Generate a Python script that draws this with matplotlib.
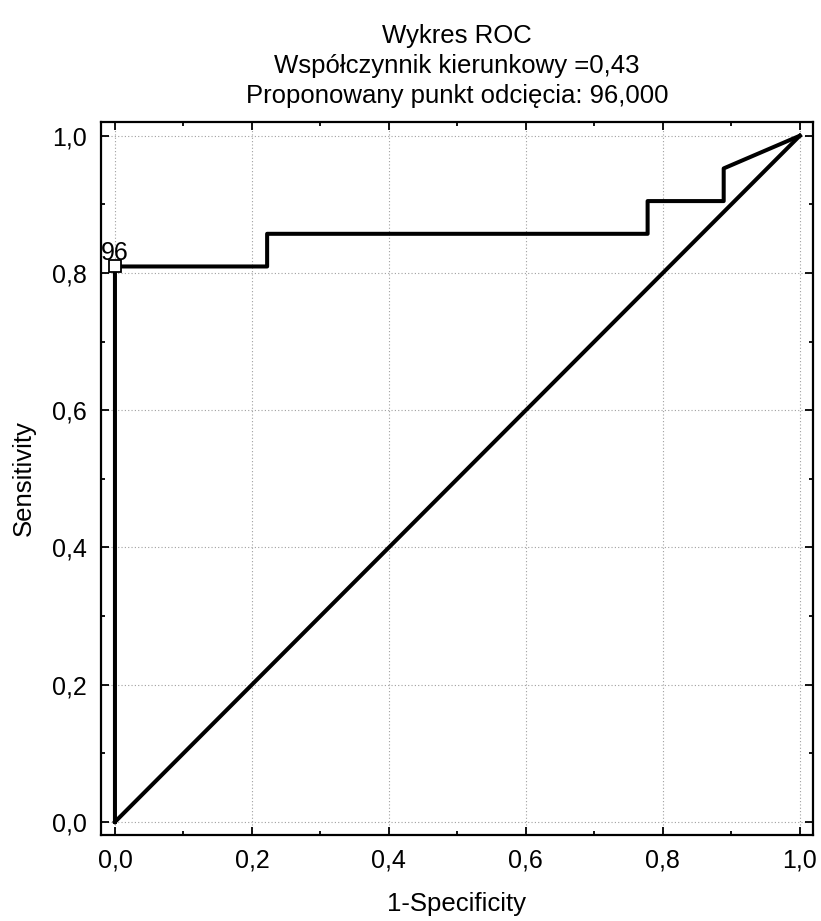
import matplotlib.pyplot as plt
from matplotlib.ticker import FuncFormatter, MultipleLocator

plt.rcParams['font.family'] = ['Liberation Sans', 'DejaVu Sans']

# krzywa ROC (1-specyficznosc, czulosc)
fpr = [0.0, 0.0, 0.2222, 0.2222, 0.7778, 0.7778, 0.8889, 0.8889, 1.0]
tpr = [0.0, 0.8095, 0.8095, 0.8571, 0.8571, 0.9048, 0.9048, 0.9524, 1.0]
ref_line = [0.0, 1.0]

# punkt odciecia
cut_x = 0.0
cut_y = 0.8095
cut_label = "96"

ticks = [0.0, 0.2, 0.4, 0.6, 0.8, 1.0]

fig = plt.figure(figsize=(8.21, 9.21), dpi=100)
ax = fig.add_axes([0.123, 0.0934, 0.867, 0.7741])

ax.plot(ref_line, ref_line, color='black', lw=2.9, zorder=3)
ax.plot(fpr, tpr, color='black', lw=2.9, zorder=4)
ax.plot([cut_x], [cut_y], marker='s', ms=9, mfc='white', mec='black', mew=1.3,
        ls='none', zorder=5)
ax.text(cut_x, cut_y + 0.01, cut_label, ha='center', va='baseline', fontsize=18, zorder=6)

ax.set_xlim(-0.0204, 1.019)
ax.set_ylim(-0.019, 1.02)
ax.set_xticks(ticks)
ax.set_yticks(ticks)
ax.xaxis.set_minor_locator(MultipleLocator(0.1))
ax.yaxis.set_minor_locator(MultipleLocator(0.1))
fmt = FuncFormatter(lambda v, p: ('%.1f' % v).replace('.', ','))
ax.xaxis.set_major_formatter(fmt)
ax.yaxis.set_major_formatter(fmt)

ax.tick_params(which='both', direction='in', top=True, right=True, width=1.3)
ax.tick_params(which='major', length=6, labelsize=18, pad=10)
ax.tick_params(which='minor', length=3)

ax.grid(True, which='major', color='#a0a0a0', ls=(0, (1, 2)), lw=0.8)
for s in ax.spines.values():
    s.set_linewidth(1.6)

ax.set_xlabel('1-Specificity', fontsize=18.5, labelpad=14)
ax.set_ylabel('Sensitivity', fontsize=18.5, labelpad=12)
ax.set_title('Wykres ROC\nWspółczynnik kierunkowy =0,43\nProponowany punkt odcięcia: 96,000',
             fontsize=18.5, linespacing=1.3, pad=14)

fig.savefig('out.png', dpi=100)
